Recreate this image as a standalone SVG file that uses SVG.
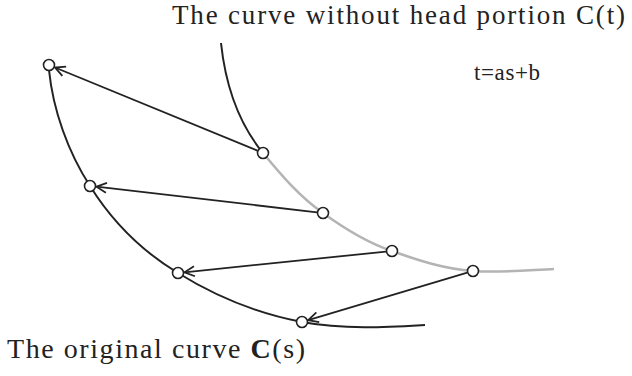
<svg xmlns="http://www.w3.org/2000/svg" width="632" height="376" viewBox="0 0 632 376">
<style>
.curve{fill:none;stroke:#222;stroke-width:2;}
.gray{fill:none;stroke:#b4b4b4;stroke-width:2.6;}
.pt{fill:#fff;stroke:#222;stroke-width:1.6;}
.arr{fill:none;stroke:#222;stroke-width:1.8;marker-end:url(#chev);}
</style>
<defs>
<marker id="chev" viewBox="0 0 12 12" refX="11" refY="6" markerWidth="12" markerHeight="12" markerUnits="userSpaceOnUse" orient="auto">
<path d="M1,1 L11,6 L1,11" fill="none" stroke="#222" stroke-width="1.8"/>
</marker>
</defs>
<rect width="632" height="376" fill="#fff"/>
<g id="curves">
<path id="curve-original" class="curve" d="M49,70 C53,110 68,152 90,186 C110,218 140,250 178,273 C215,296 255,313 302,322 C345,330 390,327 425,325"/>
<path id="curve-head" class="curve" d="M221,43 C226,90 240,125 263,153"/>
<path id="curve-rest" class="gray" d="M263,153 C282,176 300,197 323,213 C345,229 368,243 392,251 C420,261 445,269 473,271 C500,273 530,270 554,269"/>
</g>
<g id="connectors">
<line class="arr" x1="257.5" y1="150.7" x2="55" y2="67.5"/>
<line class="arr" x1="317" y1="212.3" x2="96.5" y2="186.7"/>
<line class="arr" x1="386" y1="251.6" x2="184.5" y2="272.3"/>
<line class="arr" x1="467.3" y1="272.7" x2="308.2" y2="320.1"/>
</g>
<g id="p1"><circle class="pt" cx="49" cy="65" r="5.5"/></g>
<g id="p2"><circle class="pt" cx="90" cy="186" r="5.5"/></g>
<g id="p3"><circle class="pt" cx="178" cy="273" r="5.5"/></g>
<g id="p4"><circle class="pt" cx="302" cy="322" r="5.5"/></g>
<g id="q1"><circle class="pt" cx="263" cy="153" r="5.5"/></g>
<g id="q2"><circle class="pt" cx="323" cy="213" r="5.5"/></g>
<g id="q3"><circle class="pt" cx="392" cy="251" r="5.5"/></g>
<g id="q4"><circle class="pt" cx="473" cy="271" r="5.5"/></g>
<g id="labels" font-family="Liberation Serif, Times New Roman, DejaVu Serif, serif" fill="#222">
<text x="172" y="24" font-size="27" textLength="453">The curve without head portion C(t)</text>
<text x="474" y="80" font-size="23" textLength="66">t=as+b</text>
<text x="7" y="358" font-size="28" textLength="298">The original curve <tspan font-weight="bold">C</tspan>(s)</text>
</g>
</svg>
